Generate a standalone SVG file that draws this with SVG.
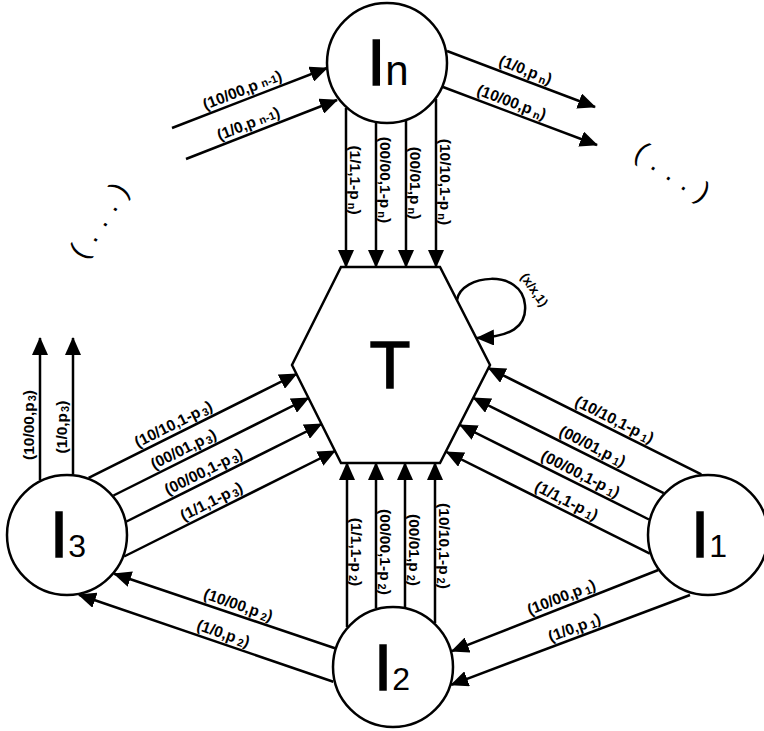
<svg xmlns="http://www.w3.org/2000/svg" width="764" height="731" viewBox="0 0 764 731">
<defs>
<marker id="ah" viewBox="0 0 18 16" refX="17" refY="8" markerWidth="18" markerHeight="16" markerUnits="userSpaceOnUse" orient="auto"><path d="M0,0 L18,8 L0,16 z" fill="#000"/></marker>
<style>
.node{fill:#fff;stroke:#000;stroke-width:2.5}
.nt{font-family:"Liberation Sans",Arial,sans-serif;fill:#000;text-anchor:middle}
.big{stroke:#000;stroke-width:1.4}
.e{fill:none;stroke:#000;stroke-width:2.5;marker-end:url(#ah)}
.lbl{font-family:"Liberation Sans",Arial,sans-serif;font-weight:bold;font-size:15.5px;fill:#000;text-anchor:middle}
.sub{font-size:11px}
.dots{font-family:"Liberation Sans",Arial,sans-serif;font-size:28px;letter-spacing:1.3px;fill:#000;text-anchor:middle}
</style>
</defs>
<rect width="764" height="731" fill="#fff"/>

<g id="connectors">
<path class="e" d="M346,108 V267"/>
<path class="e" d="M376,123 V267"/>
<path class="e" d="M406,121 V267"/>
<path class="e" d="M436,99 V267"/>
<path class="e" d="M347,627 V463"/>
<path class="e" d="M376,608 V463"/>
<path class="e" d="M405,607 V463"/>
<path class="e" d="M435,623 V463"/>
<path class="e" d="M88.6,477.9 L296.5,374"/>
<path class="e" d="M113.5,495.5 L308.5,398"/>
<path class="e" d="M126.5,521.5 L321.5,424"/>
<path class="e" d="M124.1,556.5 L335,451"/>
<path class="e" d="M701.3,474.4 L488.5,368"/>
<path class="e" d="M663.7,493.1 L473.5,398"/>
<path class="e" d="M649,519.5 L460,425"/>
<path class="e" d="M649.9,553.7 L446.5,452"/>
<path class="e" d="M40,480 V338"/>
<path class="e" d="M73,474 V338"/>
<path class="e" d="M172,128 L327,68"/>
<path class="e" d="M186,159 L337,100"/>
<path class="e" d="M447,51 L595,107"/>
<path class="e" d="M443,87 L597,145"/>
<path class="e" d="M335,648.3 L114.2,573.7"/>
<path class="e" d="M333.3,681.7 L78.9,594.7"/>
<path class="e" d="M658.3,570 L451.8,651.2"/>
<path class="e" d="M690,595 L451.2,684.8"/>
<path class="e" d="M457,300 C461,274 522,268 525,305 C527,327 510,337 477,338"/>

<g transform="translate(246,99.5) rotate(-21.2)"><text class="lbl" y="-5">(10/00,p<tspan class="sub" dx="4">n-1</tspan>)</text></g>
<g transform="translate(252,133.2) rotate(-21.4)"><text class="lbl" y="-5">(1/0,p<tspan class="sub" dx="4">n-1</tspan>)</text></g>
<g transform="translate(522,79.4) rotate(20.7)"><text class="lbl" y="-5">(1/0,p<tspan class="sub" dx="3" dy="2">n</tspan><tspan dy="-2">)</tspan></text></g>
<g transform="translate(508,111.6) rotate(20.6)"><text class="lbl" y="-5">(10/00,p<tspan class="sub" dx="3" dy="2">n</tspan><tspan dy="-2">)</tspan></text></g>

<g transform="translate(346,180) rotate(90)"><text class="lbl" y="-4">(1/1,1-p<tspan class="sub" dx="3" dy="2">n</tspan><tspan dy="-2">)</tspan></text></g>
<g transform="translate(376,180) rotate(90)"><text class="lbl" y="-4">(00/00,1-p<tspan class="sub" dx="3" dy="2">n</tspan><tspan dy="-2">)</tspan></text></g>
<g transform="translate(406,183) rotate(90)"><text class="lbl" y="-4">(00/01,p<tspan class="sub" dx="3" dy="2">n</tspan><tspan dy="-2">)</tspan></text></g>
<g transform="translate(436,182) rotate(90)"><text class="lbl" y="-4">(10/10,1-p<tspan class="sub" dx="3" dy="2">n</tspan><tspan dy="-2">)</tspan></text></g>

<g transform="translate(347,552) rotate(90)"><text class="lbl" y="-4">(1/1,1-p<tspan class="sub" dx="3" dy="2">2</tspan><tspan dy="-2">)</tspan></text></g>
<g transform="translate(376,552) rotate(90)"><text class="lbl" y="-4">(00/00,1-p<tspan class="sub" dx="3" dy="2">2</tspan><tspan dy="-2">)</tspan></text></g>
<g transform="translate(405,550) rotate(90)"><text class="lbl" y="-4">(00/01,p<tspan class="sub" dx="3" dy="2">2</tspan><tspan dy="-2">)</tspan></text></g>
<g transform="translate(435,546) rotate(90)"><text class="lbl" y="-4">(10/10,1-p<tspan class="sub" dx="3" dy="2">2</tspan><tspan dy="-2">)</tspan></text></g>

<g transform="translate(178,433.25) rotate(-26.57)"><text class="lbl" y="-5">(10/10,1-p<tspan class="sub" dx="2" dy="2">3</tspan><tspan dy="-2">)</tspan></text></g>
<g transform="translate(188,458.25) rotate(-26.57)"><text class="lbl" y="-5">(00/01,p<tspan class="sub" dx="2" dy="2">3</tspan><tspan dy="-2">)</tspan></text></g>
<g transform="translate(208,480.75) rotate(-26.57)"><text class="lbl" y="-5">(00/00,1-p<tspan class="sub" dx="2" dy="2">3</tspan><tspan dy="-2">)</tspan></text></g>
<g transform="translate(216,510.5) rotate(-26.57)"><text class="lbl" y="-5">(1/1,1-p<tspan class="sub" dx="2" dy="2">3</tspan><tspan dy="-2">)</tspan></text></g>

<g transform="translate(610,428.75) rotate(26.57)"><text class="lbl" y="-5">(10/10,1-p<tspan class="sub" dx="3" dy="2">1</tspan><tspan dy="-2">)</tspan></text></g>
<g transform="translate(588,455.25) rotate(26.57)"><text class="lbl" y="-5">(00/01,p<tspan class="sub" dx="3" dy="2">1</tspan><tspan dy="-2">)</tspan></text></g>
<g transform="translate(576,483) rotate(26.57)"><text class="lbl" y="-5">(00/00,1-p<tspan class="sub" dx="3" dy="2">1</tspan><tspan dy="-2">)</tspan></text></g>
<g transform="translate(562,509.75) rotate(26.57)"><text class="lbl" y="-5">(1/1,1-p<tspan class="sub" dx="3" dy="2">1</tspan><tspan dy="-2">)</tspan></text></g>

<g transform="translate(40,425) rotate(-90)"><text class="lbl" y="-6">(10/00,p<tspan class="sub" dx="1" dy="2">3</tspan><tspan dy="-2">)</tspan></text></g>
<g transform="translate(73,427) rotate(-90)"><text class="lbl" y="-6">(1/0,p<tspan class="sub" dx="1" dy="2">3</tspan><tspan dy="-2">)</tspan></text></g>

<g transform="translate(235,614.5) rotate(18.7)"><text class="lbl" y="-5">(10/00,p<tspan class="sub" dx="3" dy="2">2</tspan><tspan dy="-2">)</tspan></text></g>
<g transform="translate(220,643) rotate(18.9)"><text class="lbl" y="-5">(1/0,p<tspan class="sub" dx="3" dy="2">2</tspan><tspan dy="-2">)</tspan></text></g>
<g transform="translate(565,606.7) rotate(-21.4)"><text class="lbl" y="-5">(10/00,p<tspan class="sub" dx="3" dy="2">1</tspan><tspan dy="-2">)</tspan></text></g>
<g transform="translate(578,637.1) rotate(-20.6)"><text class="lbl" y="-5">(1/0,p<tspan class="sub" dx="3" dy="2">1</tspan><tspan dy="-2">)</tspan></text></g>

<g transform="translate(534,290) rotate(55)"><text class="lbl" style="font-size:13px" y="4">(x/x,1)</text></g>
</g>

<g id="ellipsis-left" transform="translate(107,225) rotate(-57)"><text class="dots">( . . . )</text></g>
<g id="ellipsis-right" transform="translate(668,180) rotate(33.5)"><text class="dots">( . . . )</text></g>

<g id="node-T">
<polygon class="node" points="341,267 440,267 490,365 440,463 341,463 292,365"/>
<text class="nt big" x="390" y="388" font-size="67">T</text>
</g>
<g id="node-In">
<circle class="node" cx="387" cy="63" r="60"/>
<text class="nt" x="388" y="85"><tspan class="big" font-size="65">I</tspan><tspan font-size="42">n</tspan></text>
</g>
<g id="node-I3">
<circle class="node" cx="67" cy="535" r="60"/>
<text class="nt" x="68" y="557"><tspan class="big" font-size="65">I</tspan><tspan font-size="32">3</tspan></text>
</g>
<g id="node-I1">
<circle class="node" cx="708" cy="535" r="60"/>
<text class="nt" x="709" y="557"><tspan class="big" font-size="65">I</tspan><tspan font-size="32">1</tspan></text>
</g>
<g id="node-I2">
<circle class="node" cx="393" cy="667" r="60"/>
<text class="nt" x="392" y="690"><tspan class="big" font-size="65">I</tspan><tspan font-size="32">2</tspan></text>
</g>
</svg>
